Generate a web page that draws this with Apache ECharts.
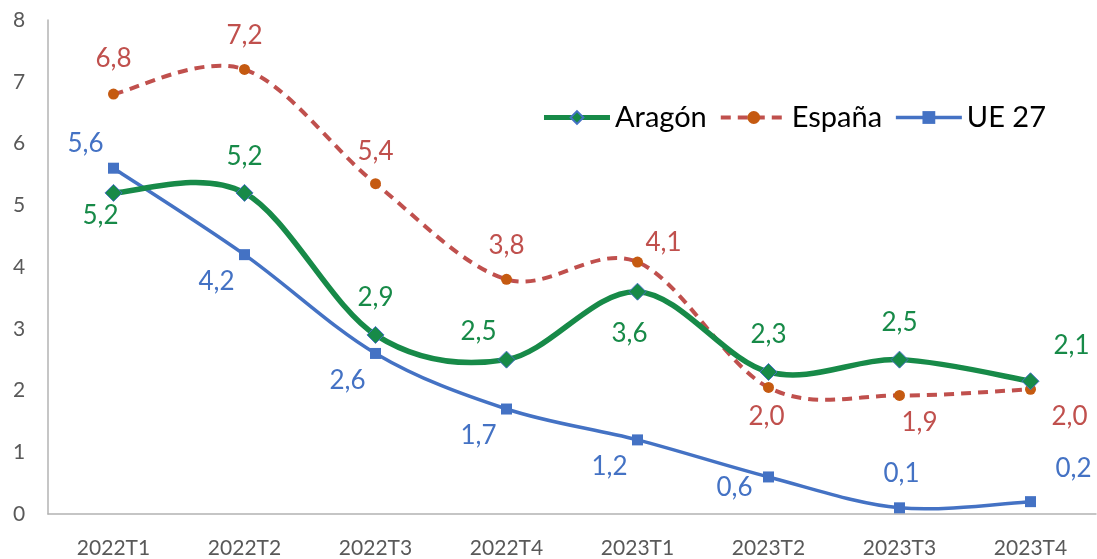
<!DOCTYPE html>
<html><head><meta charset="utf-8">
<script src="https://cdn.jsdelivr.net/npm/echarts@6/dist/echarts.min.js"></script>
<style>html,body{margin:0;padding:0;background:#fff}#c{width:1097px;height:559px}</style>
</head><body><div id="c"></div>
<script>
const categories = ['2022T1','2022T2','2022T3','2022T4','2023T1','2023T2','2023T3','2023T4'];
const aragon = [5.2, 5.2, 2.9, 2.5, 3.6, 2.3, 2.5, 2.15];
const espana = [6.8, 7.2, 5.35, 3.8, 4.08, 2.05, 1.92, 2.02];
const ue27 = [5.6, 4.2, 2.6, 1.7, 1.2, 0.6, 0.1, 0.2];
const aragonLabels = ['5,2','5,2','2,9','2,5','3,6','2,3','2,5','2,1'];
const espanaLabels = ['6,8','7,2','5,4','3,8','4,1','2,0','1,9','2,0'];
const ueLabels = ['5,6','4,2','2,6','1,7','1,2','0,6','0,1','0,2'];
const yTicks = [0,1,2,3,4,5,6,7,8];

const aragonOff = [[-13,23],[0,-36],[0,-37],[-28,-28],[-8,42],[0,-37],[0,-37],[41,-36]];
const espanaOff = [[0,-35],[0,-34],[0,-32],[0,-34],[26,-19],[-2,29],[20,27],[39,27]];
const ueOff = [[-28,-25],[-28,27],[-28,27],[-28,27],[-28,27],[-34,11],[2,-34],[43,-33]];

const GREEN = '#178a48', RED = '#c0504d', BLUE = '#4472c4';
const FONT = 'Lato, "Open Sans", sans-serif';

function mk(vals, labels, offs, color) {
  return vals.map((v, i) => ({
    value: v,
    label: {show: true, position: 'inside', offset: offs[i], formatter: labels[i],
            color: color, fontSize: 26, fontFamily: FONT}
  }));
}

// Excel-like smoothed line (Catmull-Rom Bezier) through the data, drawn via the axis scales
function smoothLine(name, vals, style) {
  return {
    name: name, type: 'custom', z: 1, silent: true,
    data: vals.map((v, i) => [i, v]),
    renderItem: function (params, api) {
      if (params.dataIndex !== 0) return null;
      const p = vals.map((v, i) => api.coord([i, v]));
      let d = 'M' + p[0][0] + ' ' + p[0][1];
      for (let i = 0; i < p.length - 1; i++) {
        const p0 = p[i - 1] || p[i], p1 = p[i], p2 = p[i + 1], p3 = p[i + 2] || p[i + 1];
        const c1 = [p1[0] + (p2[0] - p0[0]) / 6, p1[1] + (p2[1] - p0[1]) / 6];
        const c2 = [p2[0] - (p3[0] - p1[0]) / 6, p2[1] - (p3[1] - p1[1]) / 6];
        d += ' C' + c1[0] + ' ' + c1[1] + ' ' + c2[0] + ' ' + c2[1] + ' ' + p2[0] + ' ' + p2[1];
      }
      return {type: 'path', shape: {pathData: d},
              style: Object.assign({fill: null, lineCap: 'round', lineJoin: 'round'}, style)};
    }
  };
}

const chart = echarts.init(document.getElementById('c'), null, {renderer: 'canvas'});
chart.setOption({
  animation: false,
  backgroundColor: '#fff',
  grid: {left: 48, right: 1, top: 20, bottom: 45, containLabel: false},
  legend: {
    right: 46, top: 98, itemWidth: 66, itemHeight: 16, itemGap: 12,
    textStyle: {fontSize: 29, fontFamily: FONT, color: '#000'},
    data: [
      {name: 'Aragón', lineStyle: {color: GREEN, width: 5, opacity: 1, type: 'solid'}},
      {name: 'España', lineStyle: {color: RED, width: 4, opacity: 1, type: [10, 7]}},
      {name: 'UE 27', lineStyle: {color: BLUE, width: 3.5, opacity: 1, type: 'solid'}}
    ]
  },
  xAxis: {
    type: 'category', data: categories, boundaryGap: true,
    axisLine: {show: true, lineStyle: {color: '#b3b3b3', width: 1.5}},
    axisTick: {show: false},
    axisLabel: {color: '#595959', fontSize: 21, fontFamily: FONT, margin: 24}
  },
  yAxis: {
    type: 'value', min: 0, max: 8, interval: 1,
    axisLine: {show: true, lineStyle: {color: '#b3b3b3', width: 1.5}},
    axisTick: {show: false},
    splitLine: {show: false},
    axisLabel: {color: '#595959', fontSize: 21, fontFamily: FONT, margin: 35, align: 'left',
                formatter: v => yTicks.includes(v) ? String(v) : ''}
  },
  series: [
    smoothLine('_ue', ue27, {stroke: BLUE, lineWidth: 3.5}),
    smoothLine('_es', espana, {stroke: RED, lineWidth: 4, lineDash: [10, 7], lineCap: 'butt'}),
    smoothLine('_ar', aragon, {stroke: GREEN, lineWidth: 5.5}),
    {
      name: 'UE 27', type: 'line', z: 4,
      data: mk(ue27, ueLabels, ueOff, BLUE),
      symbol: 'rect', symbolSize: 11,
      itemStyle: {color: BLUE},
      lineStyle: {color: BLUE, width: 3.5, opacity: 0}
    },
    {
      name: 'España', type: 'line', z: 4,
      data: mk(espana, espanaLabels, espanaOff, RED),
      symbol: 'circle', symbolSize: 11,
      itemStyle: {color: '#c55a11', borderWidth: 0},
      lineStyle: {color: RED, width: 4, type: [10, 7], opacity: 0}
    },
    {
      name: 'Aragón', type: 'line', z: 5,
      data: mk(aragon, aragonLabels, aragonOff, GREEN),
      symbol: 'diamond', symbolSize: 17,
      itemStyle: {color: GREEN, borderColor: BLUE, borderWidth: 1},
      lineStyle: {color: GREEN, width: 5, opacity: 0}
    }
  ]
});
</script></body></html>
